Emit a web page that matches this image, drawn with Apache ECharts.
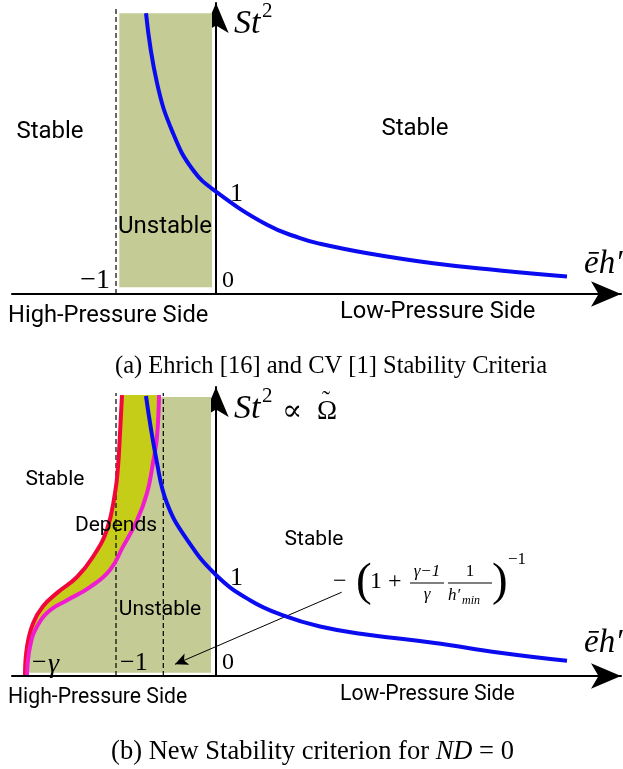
<!DOCTYPE html>
<html>
<head>
<meta charset="utf-8">
<script src="https://cdn.jsdelivr.net/npm/echarts@6/dist/echarts.min.js"></script>
<style>
  html, body { margin: 0; padding: 0; background: #fff; }
  #chart { width: 623px; height: 769px; }
</style>
</head>
<body>
<div id="chart"></div>
<script>
// ---- (a) Ehrich / CV criterion -------------------------------------------
// St^2 stability boundary (blue) against e h'
const boundaryA_x = [-0.70, -0.59, -0.43, -0.23, 0.00, 0.51, 0.84, 1.04, 1.50, 2.17, 2.84, 3.51];
const boundaryA_y = [ 2.74,  2.06,  1.57,  1.21, 1.00, 0.675, 0.545, 0.49, 0.40, 0.30, 0.23, 0.17];
// unstable band, x range and St^2 range
const bandA_x = [-0.967, -0.04];
const bandA_y = [0.065, 2.74];
// dashed guide at e h' = -1
const guideA_x = [-1.0];
const guideA_top = 2.79;

// ---- (b) new criterion for ND = 0 ----------------------------------------
const boundaryB_x = [-0.70, -0.59, -0.49, -0.29, 0.00, 0.34, 0.67, 1.04, 1.50, 2.17, 2.84, 3.51];
const boundaryB_y = [ 2.77,  2.11,  1.71,  1.35, 1.00, 0.75, 0.60, 0.49, 0.41, 0.33, 0.23, 0.15];
// red limit curve (x as a function of St^2)
const redB_x = [-1.91, -1.89, -1.83, -1.73, -1.58, -1.39, -1.23, -1.09, -1.01, -0.98, -0.96, -0.94];
const redB_y = [ 0.01,  0.29,  0.52,  0.69,  0.83,  0.98,  1.18,  1.45,  1.81,  2.07,  2.40,  2.78];
// magenta limit curve
const magB_x = [-1.89, -1.86, -1.79, -1.66, -1.49, -1.26, -1.06, -0.93, -0.79, -0.69, -0.63, -0.59, -0.57];
const magB_y = [ 0.01,  0.29,  0.49,  0.65,  0.75,  0.88,  1.05,  1.28,  1.54,  1.81,  2.11,  2.37,  2.78];
// unstable band edges
const bandB_right = -0.05;
const bandB_y = [0.033, 2.76];
// dashed guides at -1 and at -(1 + (g-1)/g / h'min)^-1
const guideB_x = [-1.0, -0.527];
const guideB_top = 2.80;
// annotation arrow from the formula to the second guide
const noteArrow = [[1.257, 0.829], [-0.41, 0.116]];

const X_MIN = -2.04, X_MAX = 4.05;
const Y_MAX_A = 2.84, Y_MAX_B = 2.86;

const OLIVE = '#c4cb94';
const YELLOW = '#c6cd18';
const BLUE = '#0b0bf0';
const RED = '#f2073a';
const MAGENTA = '#f01ccf';

const zip = (xs, ys) => xs.map((x, i) => [x, ys[i]]);

function axisPair(gi, yMax) {
  const line = {
    show: true,
    symbol: ['none', 'arrow'],
    symbolSize: [19, 30],
    symbolOffset: [0, 0],
    lineStyle: { color: '#000', width: 2 }
  };
  return {
    x: {
      type: 'value', gridIndex: gi, min: X_MIN, max: X_MAX,
      axisLine: Object.assign({ onZero: false }, line),
      axisTick: { show: false }, axisLabel: { show: false }, splitLine: { show: false }
    },
    y: {
      type: 'value', gridIndex: gi, min: 0, max: yMax,
      axisLine: Object.assign({ onZero: true }, line),
      axisTick: { show: false }, axisLabel: { show: false }, splitLine: { show: false }
    }
  };
}
const axA = axisPair(0, Y_MAX_A);
const axB = axisPair(1, Y_MAX_B);

// filled polygon drawn through the axis scales
function polygonSeries(gi, pts, color, z) {
  return {
    type: 'custom', xAxisIndex: gi, yAxisIndex: gi, z: z, silent: true,
    data: [0],
    renderItem: (params, api) => ({
      type: 'polygon',
      shape: { points: pts.map(p => api.coord(p)) },
      style: { fill: color }
    })
  };
}

function curve(gi, pts, color, z) {
  return {
    type: 'line', xAxisIndex: gi, yAxisIndex: gi, data: pts, z: z,
    showSymbol: false, smooth: 0.45, silent: true,
    lineStyle: { color: color, width: 4 }
  };
}

function guide(gi, x, top) {
  return {
    type: 'line', xAxisIndex: gi, yAxisIndex: gi, data: [[x, 0], [x, top]], z: 3,
    showSymbol: false, silent: true,
    lineStyle: { color: '#000', width: 1.2, type: [5, 3] }
  };
}

const bandA = [[bandA_x[0], bandA_y[0]], [bandA_x[1], bandA_y[0]], [bandA_x[1], bandA_y[1]], [bandA_x[0], bandA_y[1]]];
const redPts = zip(redB_x, redB_y);
const magPts = zip(magB_x, magB_y);
const oliveB = [[redB_x[0], bandB_y[0]]]
  .concat(redPts.filter(p => p[1] > bandB_y[0] && p[1] < bandB_y[1]))
  .concat([[redB_x[redB_x.length - 1], bandB_y[1]], [bandB_right, bandB_y[1]], [bandB_right, bandB_y[0]]]);
const yellowB = redPts.concat(magPts.slice().reverse());

const series = [
  polygonSeries(0, bandA, OLIVE, 1),
  guide(0, guideA_x[0], guideA_top),
  curve(0, zip(boundaryA_x, boundaryA_y), BLUE, 5),

  polygonSeries(1, oliveB, OLIVE, 1),
  polygonSeries(1, yellowB, YELLOW, 2),
  Object.assign(guide(1, guideB_x[0], guideB_top), {
    markLine: {
      silent: true, animation: false,
      symbol: ['none', 'arrow'], symbolSize: [9, 13],
      label: { show: false },
      lineStyle: { color: '#000', width: 1, type: 'solid' },
      data: [[{ coord: noteArrow[0] }, { coord: noteArrow[1] }]]
    }
  }),
  guide(1, guideB_x[1], guideB_top),
  curve(1, redPts, RED, 4),
  curve(1, magPts, MAGENTA, 4),
  curve(1, zip(boundaryB_x, boundaryB_y), BLUE, 5)
];

// ---- text ----
const SANS = 'Roboto, "Open Sans", sans-serif';
const SERIF = '"Liberation Serif", "DejaVu Serif", serif';
function txt(x, y, text, font, align) {
  return {
    type: 'text', x: x, y: y, z: 100, silent: true,
    style: { text: text, font: font, fill: '#000', textAlign: align || 'left', textVerticalAlign: 'middle' }
  };
}
function hline(x1, x2, y) {
  return { type: 'line', z: 100, silent: true, shape: { x1: x1, y1: y, x2: x2, y2: y }, style: { stroke: '#000', lineWidth: 1.2 } };
}

const graphics = [
  // panel (a)
  txt(50, 132, 'Stable', '24px ' + SANS, 'center'),
  txt(415, 129, 'Stable', '24px ' + SANS, 'center'),
  txt(165, 227, 'Unstable', '24px ' + SANS, 'center'),
  txt(110, 281, '\u22121', '28px ' + SERIF, 'right'),
  txt(222, 281, '0', '24px ' + SERIF),
  txt(230, 194, '1', '26px ' + SERIF),
  txt(234, 24, 'St', 'italic 34px ' + SERIF),
  txt(262, 11, '2', '21px ' + SERIF),
  txt(584, 264, '\u0113h\u2032', 'italic 33px ' + SERIF),
  txt(8, 316, 'High-Pressure Side', '23.7px ' + SANS),
  txt(340, 312, 'Low-Pressure Side', '23.7px ' + SANS),
  txt(331, 367, '(a) Ehrich [16] and CV [1] Stability Criteria', '24.5px ' + SERIF, 'center'),

  // panel (b)
  txt(55, 480, 'Stable', '21px ' + SANS, 'center'),
  txt(116, 526, 'Depends', '21px ' + SANS, 'center'),
  txt(314, 540, 'Stable', '21px ' + SANS, 'center'),
  txt(160, 610, 'Unstable', '21px ' + SANS, 'center'),
  txt(32, 663, '\u2212', '26px ' + SERIF),
  txt(48, 665, '\u03b3', 'italic 28px ' + SERIF),
  txt(120, 663, '\u22121', '26px ' + SERIF),
  txt(222, 663, '0', '24px ' + SERIF),
  txt(230, 578, '1', '26px ' + SERIF),
  txt(234, 409, 'St', 'italic 34px ' + SERIF),
  txt(262, 396, '2', '21px ' + SERIF),
  txt(282, 412, '\u221d', '30px ' + SERIF),
  txt(317, 412, '\u03a9', '27px ' + SERIF),
  txt(322, 401, '\u02dc', '24px ' + SERIF),
  txt(584, 643, '\u0113h\u2032', 'italic 33px ' + SERIF),
  txt(8, 698, 'High-Pressure Side', '21.2px ' + SANS),
  txt(340, 695, 'Low-Pressure Side', '21.2px ' + SANS),

  // -(1 + (g-1)/g * 1/h'min)^-1
  txt(333, 582, '\u2212', '24px ' + SERIF),
  txt(356, 583, '(', '47px ' + SERIF),
  txt(370, 582, '1', '24px ' + SERIF),
  txt(388, 582, '+', '24px ' + SERIF),
  txt(427, 572, '\u03b3\u22121', 'italic 17px ' + SERIF, 'center'),
  hline(410, 444, 583),
  txt(427, 595, '\u03b3', 'italic 17px ' + SERIF, 'center'),
  txt(470, 572, '1', '17px ' + SERIF, 'center'),
  hline(448, 492, 583),
  txt(448, 596, 'h\u2032', 'italic 17px ' + SERIF),
  txt(462, 601, 'min', 'italic 12px ' + SERIF),
  txt(492, 583, ')', '47px ' + SERIF),
  txt(508, 560, '\u22121', '17px ' + SERIF),

  {
    type: 'text', x: 312.5, y: 752, z: 100, silent: true,
    style: {
      text: '{r|(b) New Stability criterion for }{i|ND}{r| = 0}',
      textAlign: 'center', textVerticalAlign: 'middle', fill: '#000',
      rich: {
        r: { font: '26.5px ' + SERIF, fill: '#000' },
        i: { font: 'italic 26.5px ' + SERIF, fill: '#000' }
      }
    }
  }
];

const chart = echarts.init(document.getElementById('chart'), null, { renderer: 'canvas' });
chart.setOption({
  animation: false,
  backgroundColor: '#fff',
  grid: [
    { left: 12, right: 2, top: 3, bottom: 475 },
    { left: 12, right: 2, top: 387, bottom: 93 }
  ],
  xAxis: [axA.x, axB.x],
  yAxis: [axA.y, axB.y],
  series: series,
  graphic: { elements: graphics }
});
</script>
</body>
</html>
